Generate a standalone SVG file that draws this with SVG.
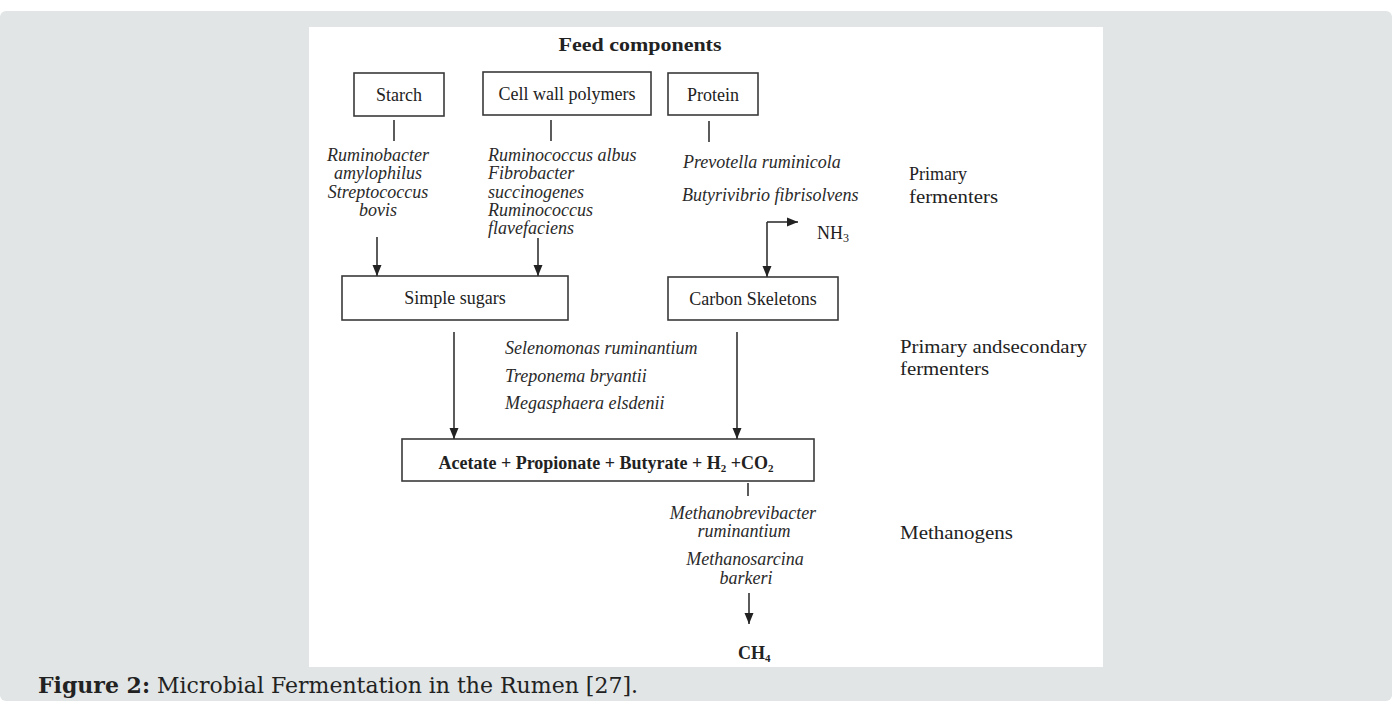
<svg xmlns="http://www.w3.org/2000/svg" width="1392" height="702" viewBox="0 0 1392 702">
<style>
  .box { fill: #ffffff; stroke: #3a3a3a; stroke-width: 1.6; }
  .t { font-family: "Liberation Serif", "Times New Roman", serif; font-size: 18px; fill: #222; }
  .b { font-weight: bold; }
  .i { font-family: "Liberation Serif", "Times New Roman", serif; font-size: 18px; font-style: italic; fill: #2a2a2a; }
  .mid { text-anchor: middle; }
  .ln { stroke: #333; stroke-width: 1.6; fill: none; }
  .ar { stroke: #333; stroke-width: 1.6; fill: none; marker-end: url(#ah); }
  .cap { font-family: "DejaVu Serif", "Liberation Serif", serif; font-size: 22px; fill: #222; }
</style>
<defs>
  <marker id="ah" markerUnits="userSpaceOnUse" markerWidth="12" markerHeight="12" viewBox="0 0 12 12" refX="11" refY="6" orient="auto">
    <path d="M0,1.5 L11,6 L0,10.5 Z" fill="#222"/>
  </marker>
</defs>
<rect x="0" y="0" width="1392" height="702" fill="#ffffff"/>
<rect x="0" y="11" width="1392" height="690" rx="6" fill="#e1e5e6"/>
<rect x="309" y="27" width="794" height="640" fill="#ffffff"/>

<g id="title"><text class="t b mid" x="640" y="51" font-size="21" textLength="163" lengthAdjust="spacingAndGlyphs">Feed components</text></g>

<g id="starch"><rect class="box" x="354" y="73" width="90" height="43"/><text class="t mid" x="399" y="101">Starch</text></g>
<g id="cellwall"><rect class="box" x="483" y="72" width="168" height="43"/><text class="t mid" x="567" y="100">Cell wall polymers</text></g>
<g id="protein"><rect class="box" x="668" y="73" width="90" height="42"/><text class="t mid" x="713" y="101">Protein</text></g>

<g id="starch-bacteria">
  <text class="i mid" x="378" y="161">Ruminobacter</text>
  <text class="i mid" x="378" y="179">amylophilus</text>
  <text class="i mid" x="378" y="198">Streptococcus</text>
  <text class="i mid" x="378" y="216">bovis</text>
</g>
<g id="cellwall-bacteria">
  <text class="i" x="488" y="161">Ruminococcus albus</text>
  <text class="i" x="488" y="179">Fibrobacter</text>
  <text class="i" x="488" y="198">succinogenes</text>
  <text class="i" x="488" y="216">Ruminococcus</text>
  <text class="i" x="488" y="234">flavefaciens</text>
</g>
<g id="protein-bacteria">
  <text class="i" x="683" y="168">Prevotella ruminicola</text>
  <text class="i" x="682" y="201">Butyrivibrio fibrisolvens</text>
</g>
<g id="label-primary">
  <text class="t" x="909" y="180">Primary</text>
  <text class="t" x="909" y="203" textLength="89" lengthAdjust="spacingAndGlyphs">fermenters</text>
</g>
<g id="nh3"><text class="t" x="817" y="239">NH<tspan font-size="12" dy="3">3</tspan></text></g>

<g id="simplesugars"><rect class="box" x="342" y="276" width="226" height="44"/><text class="t mid" x="455" y="304">Simple sugars</text></g>
<g id="carbon"><rect class="box" x="668" y="277" width="170" height="43"/><text class="t mid" x="753" y="305">Carbon Skeletons</text></g>

<g id="secondary-bacteria">
  <text class="i" x="505" y="354">Selenomonas ruminantium</text>
  <text class="i" x="505" y="382">Treponema bryantii</text>
  <text class="i" x="505" y="409">Megasphaera elsdenii</text>
</g>
<g id="label-secondary">
  <text class="t" x="900" y="353" textLength="187" lengthAdjust="spacingAndGlyphs">Primary andsecondary</text>
  <text class="t" x="900" y="375" textLength="89" lengthAdjust="spacingAndGlyphs">fermenters</text>
</g>

<g id="products"><rect class="box" x="402" y="439" width="412" height="42"/>
  <text class="t b mid" x="606" y="469" font-size="19">Acetate + Propionate + Butyrate + H<tspan font-size="11" dy="3">2</tspan><tspan dy="-3"> +CO</tspan><tspan font-size="11" dy="3">2</tspan></text>
</g>

<g id="methanogen-bacteria">
  <text class="i mid" x="743" y="519">Methanobrevibacter</text>
  <text class="i mid" x="744" y="537">ruminantium</text>
  <text class="i mid" x="745" y="565">Methanosarcina</text>
  <text class="i mid" x="746" y="584">barkeri</text>
</g>
<g id="label-methanogens"><text class="t" x="900" y="539" font-size="19" textLength="113" lengthAdjust="spacingAndGlyphs">Methanogens</text></g>
<g id="ch4"><text class="t b" x="738" y="659">CH<tspan font-size="11" dy="3">4</tspan></text></g>

<g id="connectors">
  <line class="ln" x1="394" y1="120" x2="394" y2="141"/>
  <line class="ln" x1="551" y1="120" x2="551" y2="141"/>
  <line class="ln" x1="709" y1="121" x2="709" y2="142"/>
  <line class="ar" x1="377" y1="237" x2="377" y2="276"/>
  <line class="ar" x1="538" y1="238" x2="538" y2="276"/>
  <line class="ar" x1="767" y1="222" x2="767" y2="277"/>
  <line class="ar" x1="767" y1="222" x2="798" y2="222"/>
  <line class="ar" x1="454" y1="332" x2="454" y2="439"/>
  <line class="ar" x1="737" y1="332" x2="737" y2="439"/>
  <line class="ln" x1="748" y1="483" x2="748" y2="496"/>
  <line class="ar" x1="749" y1="593" x2="749" y2="624"/>
</g>

<g id="caption"><text class="cap" x="38" y="693"><tspan font-weight="bold">Figure 2:</tspan> Microbial Fermentation in the Rumen [27].</text></g>
</svg>
